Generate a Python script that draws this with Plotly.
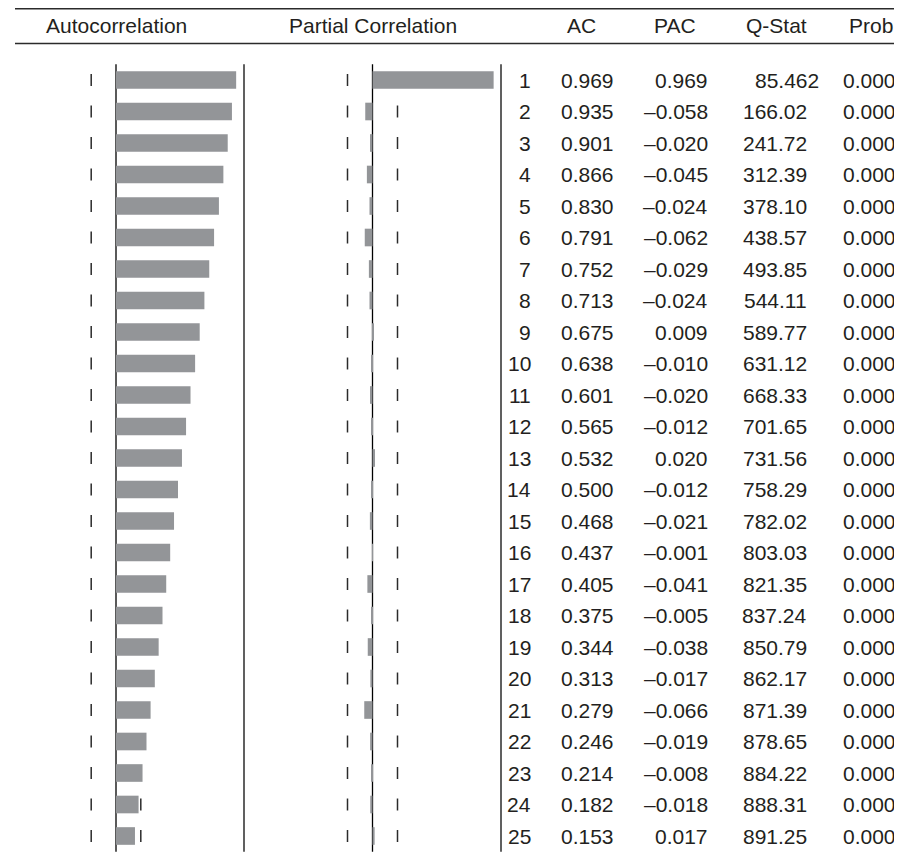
"""Correlogram table (AC / PAC bars plus Q-statistics) drawn with Plotly."""

from __future__ import annotations

import plotly.graph_objects as go

LAGS = list(range(1, 26))
AC = [0.969, 0.935, 0.901, 0.866, 0.830, 0.791, 0.752, 0.713, 0.675, 0.638,
      0.601, 0.565, 0.532, 0.500, 0.468, 0.437, 0.405, 0.375, 0.344, 0.313,
      0.279, 0.246, 0.214, 0.182, 0.153]
PAC = [0.969, -0.058, -0.020, -0.045, -0.024, -0.062, -0.029, -0.024, 0.009, -0.010,
       -0.020, -0.012, 0.020, -0.012, -0.021, -0.001, -0.041, -0.005, -0.038, -0.017,
       -0.066, -0.019, -0.008, -0.018, 0.017]
Q_STAT = [85.462, 166.02, 241.72, 312.39, 378.10, 438.57, 493.85, 544.11, 589.77, 631.12,
          668.33, 701.65, 731.56, 758.29, 782.02, 803.03, 821.35, 837.24, 850.79, 862.17,
          871.39, 878.65, 884.22, 888.31, 891.25]
PROB = [0.000, 0.000, 0.000, 0.000, 0.000, 0.000, 0.000, 0.000, 0.000, 0.000,
        0.000, 0.000, 0.000, 0.000, 0.000, 0.000, 0.000, 0.000, 0.000, 0.000,
        0.000, 0.000, 0.000, 0.000, 0.000]
CONF_BOUND = 0.2

# the page body adds an 8px margin, so the figure is a bit smaller than the window
PAGE_MARGIN = 8
WIDTH, HEIGHT = 902 - PAGE_MARGIN, 858 - PAGE_MARGIN
FONT = "Liberation Sans, Arial, Helvetica, sans-serif"
FONT_SIZE = 21
TEXT_COLOR = "#231f20"
BAR_COLOR = "#939598"
LINE_COLOR = "#2b2b2b"

# window-pixel anchors of the layout
ROW0_Y, ROW_STEP = 80, 31.5
AC_ZERO, AC_SCALE = 116, 124
PAC_ZERO, PAC_SCALE = 372.5, 125


def px(x: float) -> float:
    return (x - PAGE_MARGIN) / WIDTH


def py(y: float) -> float:
    return 1 - (y - PAGE_MARGIN) / HEIGHT


def x_range(zero: float, scale: float) -> list[float]:
    zero -= PAGE_MARGIN
    return [-zero / scale, (WIDTH - zero) / scale]


def fmt(value: float, decimals: int = 3) -> str:
    text = f"{abs(value):.{decimals}f}"
    return "\u2013" + text if value < 0 else text


def vline(xref: str, x: float, y0: float, y1: float, color: str, width: float) -> dict:
    return dict(type="line", xref=xref, yref="y", x0=x, x1=x, y0=y0, y1=y1,
                layer="below", line=dict(color=color, width=width))


def text(x: float, y: float, label: str, anchor: str, yref: str = "y") -> dict:
    return dict(x=x, y=y, xref="paper", yref=yref, text=label, showarrow=False,
                xanchor=anchor, yanchor="middle",
                font=dict(family=FONT, size=FONT_SIZE, color=TEXT_COLOR))


fig = go.Figure()
fig.add_trace(go.Bar(x=AC, y=LAGS, orientation="h", width=0.56, xaxis="x", yaxis="y",
                     marker=dict(color=BAR_COLOR, line_width=0), hoverinfo="skip"))
fig.add_trace(go.Bar(x=PAC, y=LAGS, orientation="h", width=0.56, xaxis="x2", yaxis="y",
                     marker=dict(color=BAR_COLOR, line_width=0), hoverinfo="skip"))

shapes = []
# header rules (the top one sits right at the figure's upper edge)
for y in (8.75, 43.5):
    shapes.append(dict(type="line", xref="paper", yref="paper", x0=px(15), x1=1,
                       y0=py(y), y1=py(y), line=dict(color=LINE_COLOR, width=1.5)))
# zero lines and panel borders
first, last = LAGS[0] - 0.5, LAGS[-1] + 0.5
shapes.append(vline("x", 0, first, last, "#000000", 1.3))
shapes.append(vline("x2", 0, first, last, "#000000", 1.3))
shapes.append(vline("paper", px(244), first, last, LINE_COLOR, 1.5))
shapes.append(vline("paper", px(501), first, last, LINE_COLOR, 1.5))
# confidence-band ticks
for lag in LAGS:
    for xref in ("x", "x2"):
        for sign in (-1, 1):
            shapes.append(vline(xref, sign * CONF_BOUND, lag - 0.19, lag + 0.19, LINE_COLOR, 1.5))

annotations = []
header_y = py(26)
for label, cx in zip(["Autocorrelation", "Partial Correlation", "AC", "PAC", "Q-Stat", "Prob"],
                     [116, 372.5, 581, 675, 776, 871]):
    annotations.append(text(px(cx), header_y, label, "center", yref="paper"))

digit_w = FONT_SIZE * 0.556
for lag, ac, pac, q, p in zip(LAGS, AC, PAC, Q_STAT, PROB):
    annotations.append(text(px(533), lag, str(lag), "right"))
    annotations.append(text(px(616), lag, fmt(ac), "right"))
    annotations.append(text(px(710), lag, fmt(pac), "right"))
    dec = 3 if q < 100 else 2
    annotations.append(text(px(809 + (dec - 2) * digit_w), lag, fmt(q, dec), "right"))
    annotations.append(text(px(898), lag, fmt(p), "right"))

fig.update_layout(
    width=WIDTH, height=HEIGHT,
    margin=dict(l=0, r=0, t=0, b=0),
    paper_bgcolor="white", plot_bgcolor="white",
    showlegend=False, barmode="overlay",
    xaxis=dict(range=x_range(AC_ZERO, AC_SCALE), domain=[0, 1], visible=False, fixedrange=True),
    xaxis2=dict(range=x_range(PAC_ZERO, PAC_SCALE), overlaying="x", visible=False, fixedrange=True),
    yaxis=dict(range=[1 + (HEIGHT + PAGE_MARGIN - ROW0_Y) / ROW_STEP,
                      1 - (ROW0_Y - PAGE_MARGIN) / ROW_STEP],
               domain=[0, 1], visible=False, fixedrange=True),
    shapes=shapes,
    annotations=annotations,
)

fig.write_html("out.html")
